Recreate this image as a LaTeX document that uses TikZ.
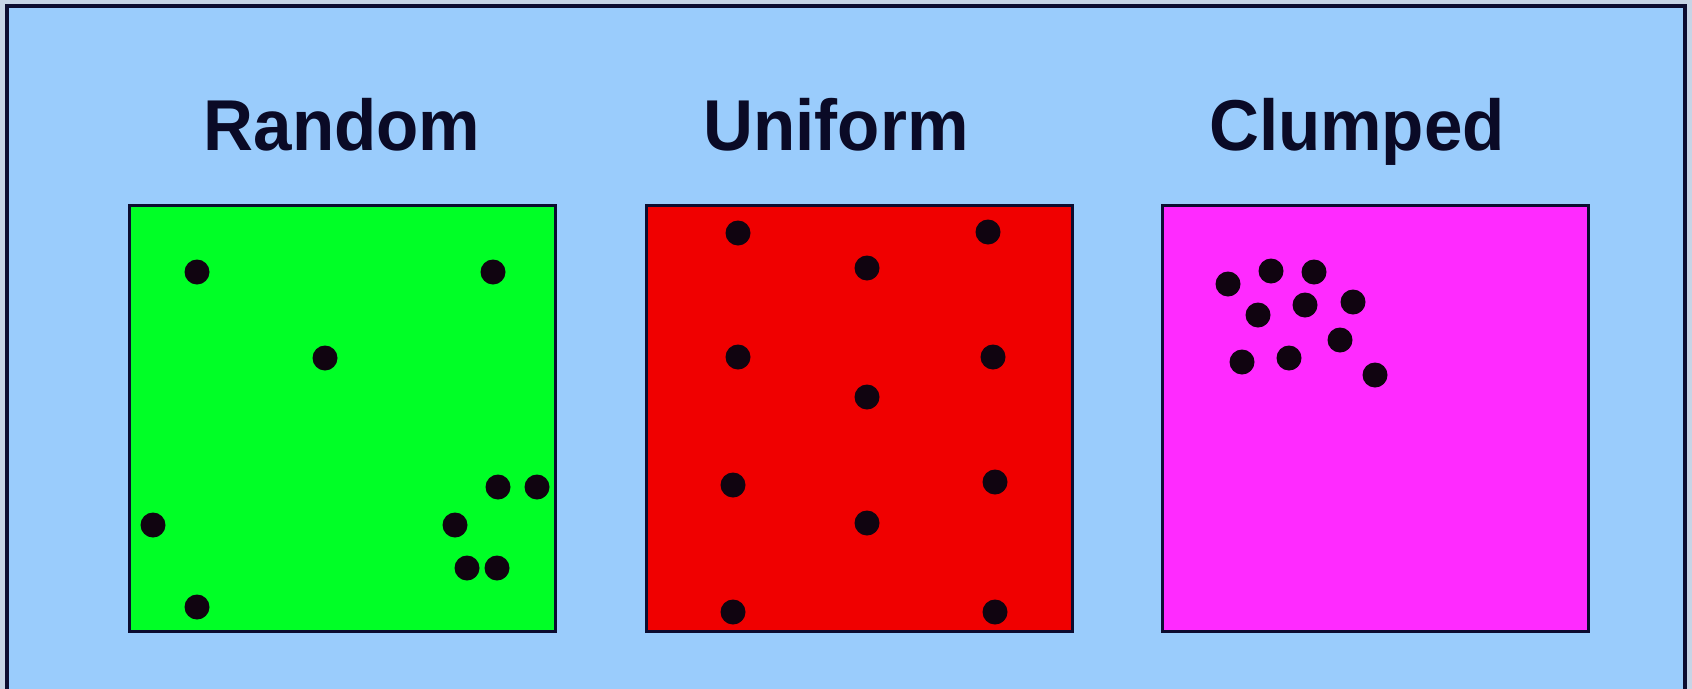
\documentclass[tikz,border=0pt]{standalone}
\usepackage{fontspec}
\setmainfont{Liberation Sans}
\newfontfamily\headfont[FakeStretch=0.96]{Liberation Sans}
\usepackage{tikz}
\definecolor{pagegrey}{HTML}{C6D4E6}
\definecolor{skyfill}{HTML}{9ACCFC}
\definecolor{frameink}{HTML}{0C0C30}
\definecolor{headink}{HTML}{0A0A26}
\definecolor{randfill}{HTML}{00FF26}
\definecolor{unifill}{HTML}{F00000}
\definecolor{clumpfill}{HTML}{FF2AFF}
\definecolor{dotink}{HTML}{100410}
\tikzset{
  plot/.style    ={rectangle, draw=frameink, line width=0.3mm,
                   minimum size=42.6mm, inner sep=0pt},
  heading/.style ={font=\headfont\bfseries\fontsize{20.5}{25}\selectfont,
                   text=headink, anchor=base, inner sep=0pt},
  dot/.style     ={fill=dotink},
}

\begin{document}
\begin{tikzpicture}[x=0.1mm, y=-0.1mm]
\useasboundingbox (0,0) rectangle (1692,689);
\fill[pagegrey] (0,0) rectangle (1692,689);
\fill[skyfill] (7,6) rectangle (1685,689);
\draw[frameink, line width=0.35mm] (7,689) -- (7,6) -- (1685,6) -- (1685,689);

\node[heading] (hrand) at (342,150) {Random};
\node[heading] (huni)  at (836,150) {Uniform};
\node[heading] (hclump) at (1357,150) {Clumped};

\node[plot, fill=randfill]  (rand)  at (342,418)  {};
\node[plot, fill=unifill]   (uni)   at (859,418)  {};
\node[plot, fill=clumpfill] (clump) at (1375,418) {};

% random
\foreach \x/\y in {197/272, 493/272, 325/358, 498/487, 537/487,
                   153/525, 455/525, 467/568, 497/568, 197/607}
  \fill[dot] (\x,\y) circle (12.5);
% uniform
\foreach \x/\y in {738/233, 988/232, 867/268, 738/357, 993/357, 867/397,
                   733/485, 995/482, 867/523, 733/612, 995/612}
  \fill[dot] (\x,\y) circle (12.5);
% clumped
\foreach \x/\y in {1228/284, 1271/271, 1314/272, 1258/315, 1305/305,
                   1353/302, 1340/340, 1242/362, 1289/358, 1375/375}
  \fill[dot] (\x,\y) circle (12.5);
\end{tikzpicture}
\end{document}
